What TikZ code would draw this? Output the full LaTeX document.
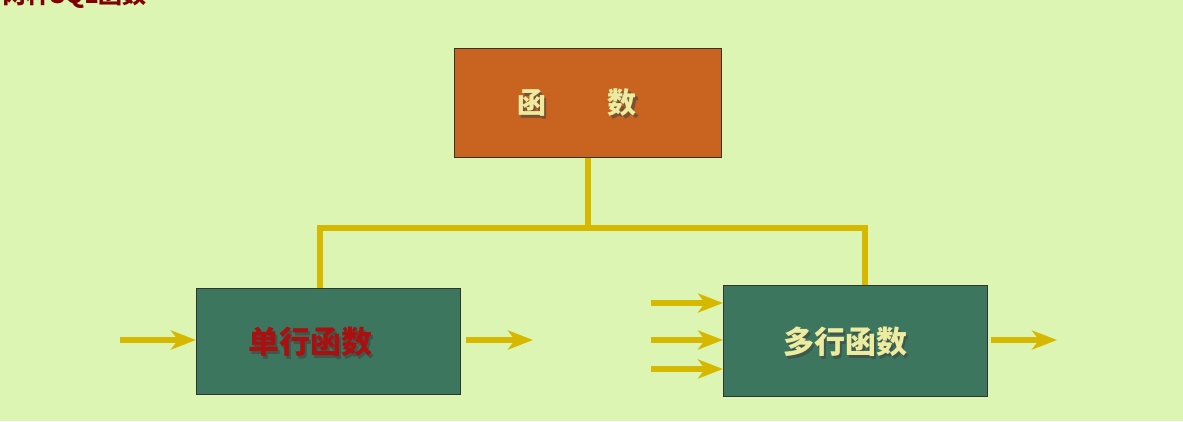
\documentclass[tikz,border=0pt]{standalone}
\usepackage{fontspec}
\newfontfamily\cjk{Noto Sans CJK SC}
\usetikzlibrary{arrows.meta}
\definecolor{bg}{RGB}{221,245,178}
\definecolor{orangebox}{RGB}{200,100,32}
\definecolor{greenbox}{RGB}{60,118,94}
\definecolor{linky}{RGB}{214,184,0}
\definecolor{txtlight}{RGB}{236,236,160}
\definecolor{txtred}{RGB}{170,16,16}
\definecolor{titlered}{RGB}{128,0,0}
\tikzset{
  box/.style={draw=black!80, line width=0.8pt, inner sep=0pt, anchor=north west},
  link/.style={draw=linky, line width=5.5pt},
  flow/.style={draw=linky, line width=5.5pt, -{Stealth[length=25pt,width=19pt,inset=7pt]}},
  lbl/.style={font=\cjk\bfseries\fontsize{31}{33}\selectfont, inner sep=0pt},
  shadowlbl/.style={lbl, text=black!75, opacity=0.55}
}
\begin{document}
\begin{tikzpicture}[x=1pt,y=-1pt]
\fill[bg] (0,0) rectangle (1183,421);
\useasboundingbox (0,0) rectangle (1183,421);
\begin{scope}
\clip (0,0) rectangle (1183,421);
\node[anchor=base west, inner sep=0pt, font=\cjk\bfseries\fontsize{24}{26}\selectfont, text=titlered] (title) at (2,3) {两种SQL函数};
\end{scope}
% boxes
\node[box, fill=orangebox, minimum width=267pt, minimum height=109pt] (top) at (454,48) {};
\node[box, fill=greenbox, minimum width=264pt, minimum height=106pt] (single) at (196,288) {};
\node[box, fill=greenbox, minimum width=264pt, minimum height=111pt] (multi) at (723,285) {};
% labels (with drop shadow)
\node[shadowlbl, font=\cjk\bfseries\fontsize{29}{31}\selectfont] (toplblsh) at (579.5,105.5) {函\hspace{62pt}数};
\node[lbl, text=txtlight, font=\cjk\bfseries\fontsize{29}{31}\selectfont] (toplbl) at (577,103) {函\hspace{62pt}数};
\node[shadowlbl] (singlelblsh) at (312.5,344.5) {单行函数};
\node[lbl, text=txtred] (singlelbl) at (310,342) {单行函数};
\node[shadowlbl] (multilblsh) at (847.5,344.5) {多行函数};
\node[lbl, text=txtlight] (multilbl) at (845,342) {多行函数};
% tree connector
\coordinate (mid) at (top.south |- 0,228);
\draw[link] (top.south) -- (mid);
\draw[link] (single.north -| 320,0) |- (mid) -| (multi.north -| 865,0);
% arrows
\coordinate (sin) at (120,340);
\coordinate (sout) at (533,340);
\draw[flow] (sin) -- (single.west |- sin);
\draw[flow] (single.east |- sout) ++(5,0) -- (sout);
\coordinate (m1) at (651,303);
\coordinate (m2) at (651,340);
\coordinate (m3) at (651,369);
\coordinate (mout) at (1057,340);
\draw[flow] (m1) -- (multi.west |- m1);
\draw[flow] (m2) -- (multi.west |- m2);
\draw[flow] (m3) -- (multi.west |- m3);
\draw[flow] (multi.east |- mout) ++(3,0) -- (mout);
\end{tikzpicture}
\end{document}
